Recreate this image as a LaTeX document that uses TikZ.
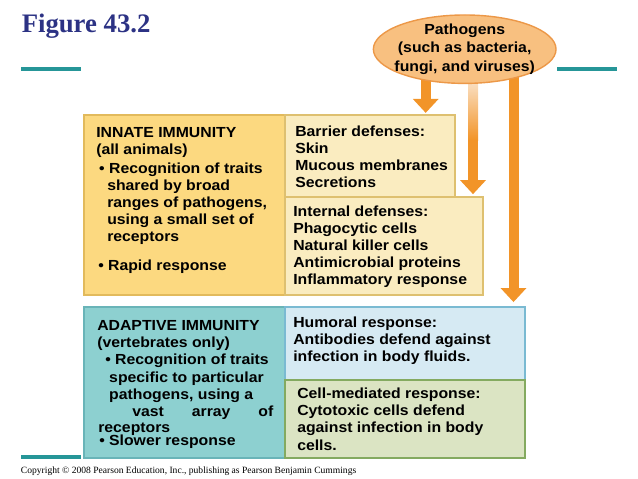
\documentclass[tikz,border=0pt]{standalone}
\usepackage{fontspec}
\setmainfont{Liberation Sans}[FakeStretch=1.08]
\newfontfamily\timesfont{Liberation Serif}
\usetikzlibrary{shapes.geometric,arrows.meta,backgrounds}

\definecolor{titleblue}{RGB}{44,50,132}
\definecolor{tealline}{RGB}{38,150,152}
\definecolor{arroworange}{RGB}{242,148,40}
\definecolor{fadeorange}{RGB}{250,226,200}
\definecolor{pathfill}{RGB}{248,192,128}
\definecolor{pathdraw}{RGB}{236,152,72}
\definecolor{innatefill}{RGB}{252,217,128}
\definecolor{innatedraw}{RGB}{226,186,92}
\definecolor{defensefill}{RGB}{250,236,192}
\definecolor{defensedraw}{RGB}{222,192,112}
\definecolor{adaptivefill}{RGB}{141,208,208}
\definecolor{adaptivedraw}{RGB}{105,180,184}
\definecolor{humoralfill}{RGB}{214,234,243}
\definecolor{humoraldraw}{RGB}{122,186,210}
\definecolor{cellfill}{RGB}{219,228,195}
\definecolor{celldraw}{RGB}{132,170,96}

\tikzset{
  box/.style={draw, line width=1pt, inner sep=0pt},
  boxtext/.style={font=\bfseries\fontsize{10.4}{12}\selectfont, align=left, anchor=base west, inner sep=0pt},
  rule/.style={draw=tealline, line width=2.6pt},
  pathArrow/.style={draw=arroworange, line width=0.25cm, -{Triangle[width=0.625cm,length=0.35cm]}},
}

\begin{document}
\begin{tikzpicture}[x=0.025cm, y=-0.025cm]
\useasboundingbox (0,0) rectangle (638,479);

% Title and rules
\node[font=\timesfont\bfseries\fontsize{19}{22}\selectfont, text=titleblue, anchor=base west, inner sep=0pt] (title) at (21.5,32.3) {Figure 43.2};
\draw[rule] (21,68.7) -- (81,68.7);
\draw[rule] (557,68.7) -- (617,68.7);
\draw[rule] (21,457) -- (81,457);

% Pathogens
\node[ellipse, draw=pathdraw, fill=pathfill, line width=1pt, minimum width=4.49cm, minimum height=1.71cm,
  inner xsep=-4pt, inner ysep=-3pt, align=center, font=\bfseries\fontsize{10.4}{13}\selectfont] (pathogens) at (464.7,49.2)
  {Pathogens\\(such as bacteria,\\fungi, and viruses)};

% Innate side
\node[box, fill=innatefill, draw=innatedraw, minimum width=5.025cm, minimum height=4.5cm] (innate) at (184.5,205) {};
\node[box, fill=defensefill, draw=defensedraw, minimum width=4.25cm, minimum height=2.05cm] (barrier) at (370,156) {};
\node[box, fill=defensefill, draw=defensedraw, minimum width=4.95cm, minimum height=2.45cm] (internal) at (384,246) {};

% Adaptive side
\node[box, fill=adaptivefill, draw=adaptivedraw, minimum width=5.025cm, minimum height=3.775cm] (adaptive) at (184.5,382.5) {};
\node[box, fill=humoralfill, draw=humoraldraw, minimum width=6cm, minimum height=1.825cm] (humoral) at (405,343.5) {};
\node[box, fill=cellfill, draw=celldraw, minimum width=6cm, minimum height=1.95cm] (cellmed) at (405,419) {};

% Texts (placed by the baseline of their last line)
\node[boxtext, font=\bfseries\fontsize{10.4}{12.2}\selectfont] (innatetxt) at (96,270) {INNATE IMMUNITY\\(all animals)\\[1.2pt]
  \hspace*{2.1pt}• Recognition of traits\\
  \hspace*{7.8pt}shared by broad\\
  \hspace*{7.8pt}ranges of pathogens,\\
  \hspace*{7.8pt}using a small set of\\
  \hspace*{7.8pt}receptors\\[7.9pt]
  \hspace*{1.4pt}• Rapid response};
\node[boxtext] (barriertxt) at (295,187) {Barrier defenses:\\Skin\\Mucous membranes\\Secretions};
\node[boxtext] (internaltxt) at (293,284) {Internal defenses:\\Phagocytic cells\\Natural killer cells\\Antimicrobial proteins\\Inflammatory response};

\node[boxtext, font=\bfseries\fontsize{10.4}{12.3}\selectfont] (adaptivetxt) at (97,416.7) {ADAPTIVE IMMUNITY\\(vertebrates only)\\
  \hspace*{5.7pt}• Recognition of traits\\
  \hspace*{8.5pt}specific to particular\\
  \hspace*{8.5pt}pathogens, using a\\
  \hspace*{24.9pt}\makebox[100.3pt][s]{vast array of}};
\node[boxtext] (receptorstxt) at (98,445) {receptors\\[-2.8pt]\hspace*{0.7pt}• Slower response};
\node[boxtext] (humoraltxt) at (293,361.7) {Humoral response:\\Antibodies defend against\\infection in body fluids.};
\node[boxtext, font=\bfseries\fontsize{10.4}{12.3}\selectfont] (celltxt) at (297,450) {Cell-mediated response:\\Cytotoxic cells defend\\against infection in body\\cells.};

% Arrows
\coordinate (a1) at (425.7,0);
\coordinate (a2) at (473,0);
\coordinate (a3) at (513.5,0);
\begin{scope}[on background layer]
  \draw[pathArrow, shorten >=1pt] (pathogens.center -| a1) -- (barrier.north -| a1);
  \draw[pathArrow, shorten >=1.5pt] (pathogens.center -| a2) -- (internal.north -| a2);
  \draw[pathArrow, shorten >=3pt] (pathogens.center -| a3) -- (humoral.north -| a3);
  \shade[top color=fadeorange, bottom color=arroworange] (468,80) rectangle (478,140);
\end{scope}

% Copyright
\node[font=\timesfont\fontsize{6.8}{8}\selectfont, anchor=base west, inner sep=0pt] (copyright) at (20.7,473)
  {Copyright © 2008 Pearson Education, Inc., publishing as Pearson Benjamin Cummings};
\end{tikzpicture}
\end{document}
